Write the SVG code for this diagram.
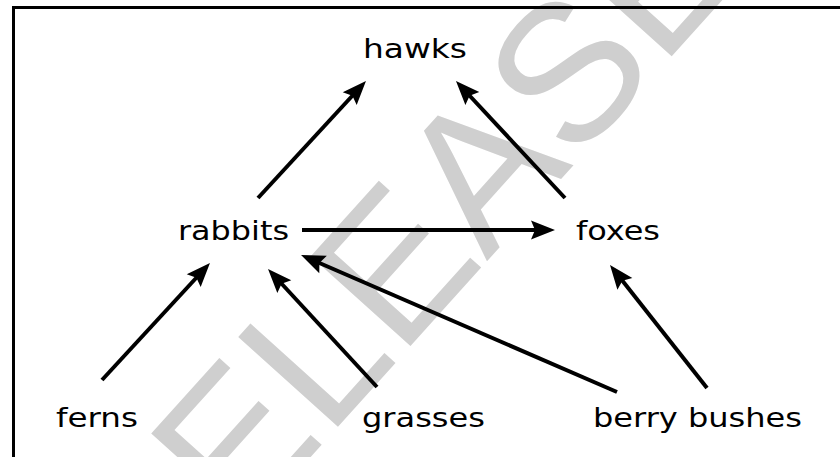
<svg xmlns="http://www.w3.org/2000/svg" width="840" height="457" viewBox="0 0 840 457">
<style>
.lbl{font-family:"DejaVu Sans","Verdana",sans-serif;font-size:26px;fill:#000;}
.wm{font-family:"Liberation Sans",Arial,sans-serif;font-size:195px;fill:#cfcfcf;}
.con line{stroke:#000;stroke-width:4;marker-end:url(#ah);}
</style>
<defs>
<marker id="ah" markerUnits="userSpaceOnUse" viewBox="-10 -10 26 20" refX="0" refY="0" markerWidth="26" markerHeight="20" orient="auto">
<path d="M15,0 L-9,-9.5 L-5,0 L-9,9.5 Z" fill="#000"/>
</marker>
</defs>
<rect width="840" height="457" fill="#fff"/>
<g id="watermark">
<text class="wm" x="146" y="640" transform="rotate(-48 146 640)">RELEASED</text>
</g>
<rect id="frame" x="13.5" y="7.5" width="900" height="500" fill="none" stroke="#000" stroke-width="3"/>
<g id="connectors" class="con">
<line x1="258" y1="198" x2="355.8" y2="92"/>
<line x1="565" y1="198" x2="466.2" y2="92"/>
<line x1="302" y1="230" x2="540" y2="230"/>
<line x1="102" y1="380" x2="199.8" y2="274"/>
<line x1="377" y1="387" x2="278.2" y2="280"/>
<line x1="617" y1="392" x2="314.8" y2="261"/>
<line x1="707" y1="388" x2="619.3" y2="276.8"/>
</g>
<g id="hawks"><text class="lbl" x="363" y="58" textLength="104" lengthAdjust="spacingAndGlyphs">hawks</text></g>
<g id="rabbits"><text class="lbl" x="178" y="240" textLength="111" lengthAdjust="spacingAndGlyphs">rabbits</text></g>
<g id="foxes"><text class="lbl" x="576" y="240" textLength="84" lengthAdjust="spacingAndGlyphs">foxes</text></g>
<g id="ferns"><text class="lbl" x="56" y="427" textLength="82" lengthAdjust="spacingAndGlyphs">ferns</text></g>
<g id="grasses"><text class="lbl" x="362" y="427" textLength="123" lengthAdjust="spacingAndGlyphs">grasses</text></g>
<g id="berry-bushes"><text class="lbl" x="593" y="427" textLength="209" lengthAdjust="spacingAndGlyphs">berry bushes</text></g>
</svg>
